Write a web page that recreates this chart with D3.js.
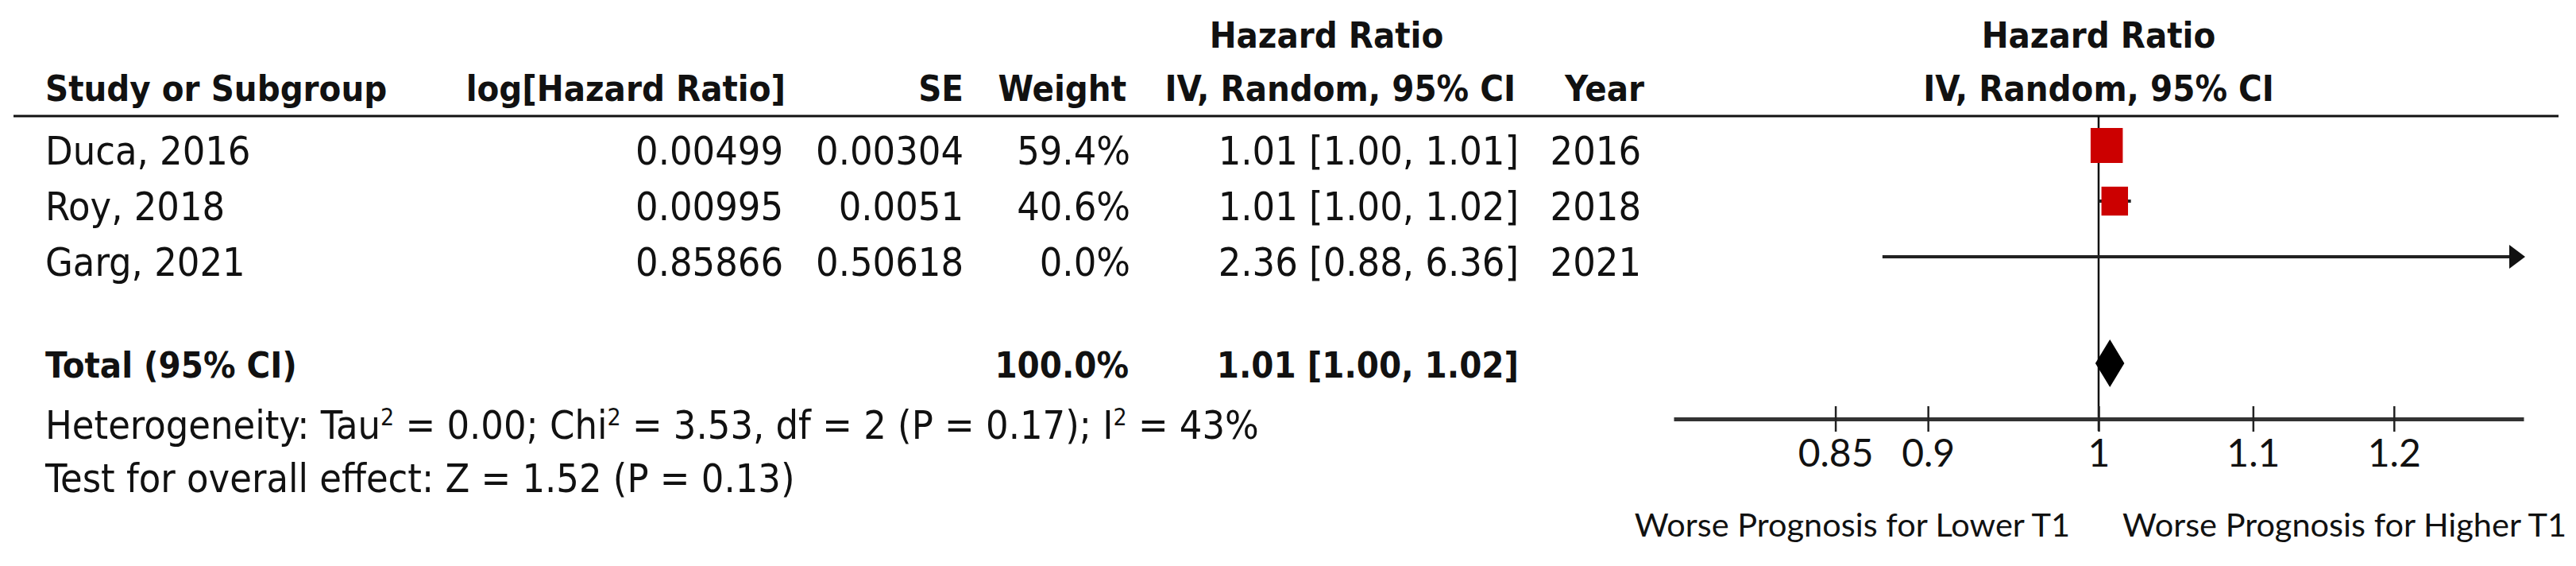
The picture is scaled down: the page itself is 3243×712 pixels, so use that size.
<!DOCTYPE html>
<html>
<head>
<meta charset="utf-8">
<script src="https://cdn.jsdelivr.net/npm/d3@7"></script>
<style>
  body { margin: 0; background: #fff; }
  svg { display: block; }
  .tbl { font-family: "DejaVu Sans Condensed", "DejaVu Sans", sans-serif; font-stretch: condensed; fill: #111; }
  .hd { font-weight: bold; font-size: 45px; }
  .bd { font-size: 50px; }
  .ax { font-family: Lato, "Open Sans", sans-serif; fill: #111; }
</style>
</head>
<body>
<script>
// study rows
const studies = ["Duca, 2016", "Roy, 2018", "Garg, 2021"];
const logHR = [0.00499, 0.00995, 0.85866];
const se = [0.00304, 0.0051, 0.50618];
const weights = [59.4, 40.6, 0.0];
const hr = [1.01, 1.01, 2.36];
const hrLo = [1.0, 1.0, 0.88];
const hrHi = [1.01, 1.02, 6.36];
const years = [2016, 2018, 2021];

// pooled estimate (random effects)
const total = { weight: 100.0, hr: 1.007, lo: 0.998, hi: 1.016, label: "1.01 [1.00, 1.02]" };

// axis
const tickVals = [0.85, 0.9, 1, 1.1, 1.2];
const axisDomain = [1 / 1.3, 1.3];
const favLeft = "Worse Prognosis for Lower T1";
const favRight = "Worse Prognosis for Higher T1";

const W = 3243, H = 712;

const svg = d3.select("body").append("svg")
  .attr("width", W)
  .attr("height", H);

svg.append("rect").attr("width", W).attr("height", H).attr("fill", "#fff");

//scales
const x = d3.scaleLog().domain(axisDomain).range([2107, 3177]);
const yRow = d3.scaleLinear().domain([0, studies.length - 1]).range([207, 347]);

const tbl = svg.append("g").attr("class", "tbl");

//column headers
function head(txt, xp, yp, anchor) {
  tbl.append("text").attr("class", "hd")
    .attr("x", xp).attr("y", yp)
    .attr("text-anchor", anchor)
    .text(txt);
}
head("Hazard Ratio", 1670, 60, "middle");
head("Study or Subgroup", 57, 127, "start");
head("log[Hazard Ratio]", 989, 127, "end");
head("SE", 1213, 127, "end");
head("Weight", 1418, 127, "end");
head("IV, Random, 95% CI", 1908, 127, "end");
head("Year", 2070, 127, "end");
head("Hazard Ratio", x(1), 60, "middle");
head("IV, Random, 95% CI", x(1), 127, "middle");

//header rule
svg.append("line")
  .attr("x1", 17).attr("x2", 3221)
  .attr("y1", 146).attr("y2", 146)
  .attr("stroke", "#111").attr("stroke-width", 3);

//study rows text
const cols = [
  { x: 57, anchor: "start", f: (i) => studies[i] },
  { x: 986, anchor: "end", f: (i) => String(logHR[i]) },
  { x: 1213, anchor: "end", f: (i) => String(se[i]) },
  { x: 1423, anchor: "end", f: (i) => weights[i].toFixed(1) + "%" },
  { x: 1912, anchor: "end", f: (i) => `${hr[i].toFixed(2)} [${hrLo[i].toFixed(2)}, ${hrHi[i].toFixed(2)}]` },
  { x: 2066, anchor: "end", f: (i) => String(years[i]) },
];

const rows = tbl.selectAll(".row")
  .data(d3.range(studies.length))
  .enter()
  .append("g")
  .attr("class", "row");

cols.forEach((c) => {
  rows.append("text")
    .attr("class", "bd")
    .attr("x", c.x)
    .attr("y", (i) => yRow(i))
    .attr("text-anchor", c.anchor)
    .text((i) => c.f(i));
});

//total row
const yTot = 475;
head("Total (95% CI)", 57, yTot, "start");
head(total.weight.toFixed(1) + "%", 1421, yTot, "end");
head(total.label, 1912, yTot, "end");

//heterogeneity + overall effect lines
const het = tbl.append("text").attr("class", "bd").attr("x", 57).attr("y", 552);
const sup = (t) => het.append("tspan").attr("font-size", "30px").attr("baseline-shift", "super").text(t);
het.append("tspan").text("Heterogeneity: Tau");
sup("2");
het.append("tspan").text(" = 0.00; Chi");
sup("2");
het.append("tspan").text(" = 3.53, df = 2 (P = 0.17); I");
sup("2");
het.append("tspan").text(" = 43%");

tbl.append("text").attr("class", "bd")
  .attr("x", 57).attr("y", 619)
  .text("Test for overall effect: Z = 1.52 (P = 0.13)");

//plot
const plot = svg.append("g");
const [xMin, xMax] = x.range();
const yAxis = 527;

//line of no effect
plot.append("line")
  .attr("x1", x(1)).attr("x2", x(1))
  .attr("y1", 146).attr("y2", 542)
  .attr("stroke", "#111").attr("stroke-width", 2.5);

//CI whiskers, clipped at axis range
const studyData = studies.map((s, i) => ({
  i: i,
  est: Math.exp(logHR[i]),
  lo: Math.exp(logHR[i] - 1.96 * se[i]),
  hi: Math.exp(logHR[i] + 1.96 * se[i]),
  w: weights[i],
  cy: yRow(i) - 24,
}));

plot.selectAll(".ci")
  .data(studyData)
  .enter()
  .append("line")
  .attr("class", "ci")
  .attr("x1", (d) => Math.max(xMin, x(d.lo)))
  .attr("x2", (d) => (d.hi > axisDomain[1] ? xMax - 14 : x(d.hi)))
  .attr("y1", (d) => d.cy).attr("y2", (d) => d.cy)
  .attr("stroke", "#222").attr("stroke-width", 4);

//arrow heads for CIs running off the scale
plot.selectAll(".arrow")
  .data(studyData.filter((d) => d.hi > axisDomain[1]))
  .enter()
  .append("path")
  .attr("d", (d) => `M${xMax - 18},${d.cy - 15}L${xMax + 2},${d.cy}L${xMax - 18},${d.cy + 15}Z`)
  .attr("fill", "#111");

//weighted squares
const boxK = 44 / Math.sqrt(59.4);
plot.selectAll(".box")
  .data(studyData.filter((d) => d.w > 0 && d.est > axisDomain[0] && d.est < axisDomain[1]))
  .enter()
  .append("rect")
  .attr("class", "box")
  .attr("x", (d) => x(d.est) - (boxK * Math.sqrt(d.w)) * 0.46)
  .attr("y", (d) => d.cy - (boxK * Math.sqrt(d.w)) / 2)
  .attr("width", (d) => boxK * Math.sqrt(d.w) * 0.92)
  .attr("height", (d) => boxK * Math.sqrt(d.w))
  .attr("fill", "#cc0000");

//pooled diamond
const dy = 457;
plot.append("path")
  .attr("d", `M${x(total.lo)},${dy}L${x(total.hr)},${dy - 30}L${x(total.hi)},${dy}L${x(total.hr)},${dy + 30}Z`)
  .attr("fill", "#000");

//x axis
const axisG = svg.append("g")
  .attr("transform", `translate(0,${yAxis})`)
  .call(d3.axisBottom(x).tickValues(tickVals).tickFormat(d3.format("")).tickSizeInner(16).tickSizeOuter(0));

axisG.select(".domain").attr("stroke", "#333").attr("stroke-width", 5);
axisG.selectAll(".tick line").attr("y1", -16).attr("y2", 16).attr("stroke", "#222").attr("stroke-width", 2.5);
axisG.selectAll(".tick text")
  .attr("class", "ax")
  .attr("y", 60)
  .attr("dy", null)
  .style("font-size", "48px");

svg.append("text").attr("class", "ax")
  .attr("x", x(1) - 36).attr("y", 675)
  .attr("text-anchor", "end")
  .style("font-size", "41.5px")
  .text(favLeft);

svg.append("text").attr("class", "ax")
  .attr("x", x(1) + 30).attr("y", 675)
  .attr("text-anchor", "start")
  .style("font-size", "41.5px")
  .text(favRight);
</script>
</body>
</html>
